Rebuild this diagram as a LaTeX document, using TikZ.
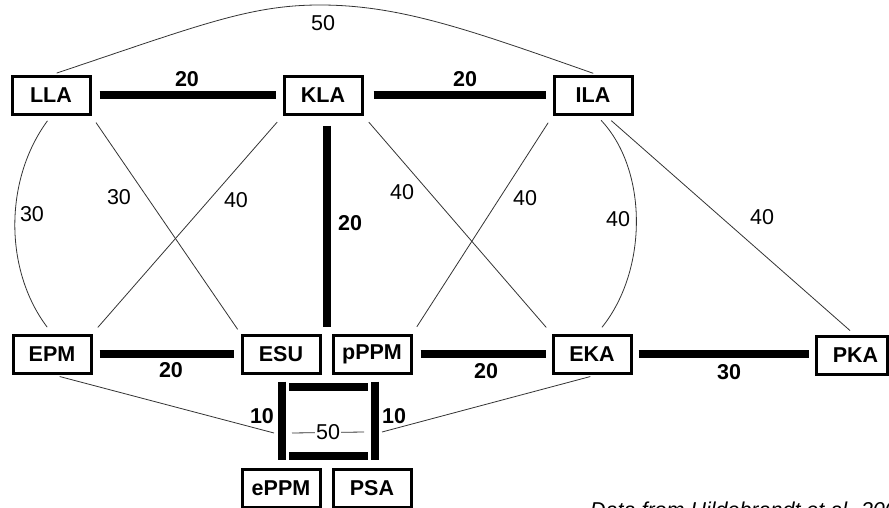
\documentclass[tikz,border=0pt]{standalone}
\usepackage{fontspec}
\setmainfont{Liberation Sans}
\begin{document}
\begin{tikzpicture}[x=1pt,y=-1pt,
  box/.style={draw=black,line width=3pt,fill=white,minimum width=78pt,minimum height=38pt,inner sep=0pt,font=\fontsize{21.5}{24}\selectfont\bfseries},
  thick link/.style={line width=8pt,black},
  thin link/.style={line width=0.8pt,black!80},
  wlab/.style={font=\fontsize{21.5}{24}\selectfont\bfseries,inner sep=0pt,text=black},
  nlab/.style={font=\fontsize{21.5}{24}\selectfont,inner sep=0pt,text=black}]
\useasboundingbox (0,0) rectangle (889,508);
% nodes
\node[box] (LLA) at (51,95.5) {LLA};
\node[box] (KLA) at (323,95.5) {KLA};
\node[box] (ILA) at (593,95.5) {ILA};
\node[box] (EPM) at (52,354) {EPM};
\node[box] (ESU) at (281,354) {ESU};
\node[box] (pPPM) at (372,354) {pPPM};
\node[box] (EKA) at (592,354) {EKA};
\node[box,minimum width=71pt] (PKA) at (851.5,355) {\hspace*{8pt}PKA};
\node[box] (ePPM) at (281,488) {ePPM};
\node[box] (PSA) at (372,488) {PSA};
% helper coordinates
\coordinate (kj) at (327,334);
\coordinate (q1) at (289,387);
\coordinate (q2) at (368,387);
\coordinate (q3) at (289,456);
\coordinate (q4) at (368,456);
\coordinate (m1) at (274,433);
\coordinate (m2) at (292,433);
\coordinate (m3) at (364,432);
\coordinate (m4) at (382,432);
% thin links
\draw[thin link,shorten <=6pt,shorten >=5pt] (LLA.north) .. controls (200,25) and (250,5) .. (320,5) .. controls (400,5) and (470,30) .. ([xshift=5pt]ILA.north);
\draw[thin link,shorten <=6pt,shorten >=8pt] (LLA.south) .. controls (4,180) and (4,270) .. (EPM.north);
\draw[thin link,shorten <=8pt,shorten >=5pt] (LLA.south east) -- (ESU.north west);
\draw[thin link,shorten <=8pt,shorten >=8pt] (KLA.south west) -- (EPM.north east);
\draw[thin link,shorten <=8pt,shorten >=8pt] (KLA.south east) -- (EKA.north west);
\draw[thin link,shorten <=8pt,shorten >=8pt] (ILA.south west) -- (pPPM.north east);
\draw[thin link,shorten <=6pt,shorten >=8pt] ([xshift=4pt]ILA.south) .. controls (648,170) and (648,270) .. ([xshift=5pt]EKA.north);
\draw[thin link,shorten <=7pt,shorten >=6pt] ([xshift=13pt]ILA.south) -- ([xshift=3pt]PKA.north);
\draw[thin link,shorten <=8pt] (EPM.south) -- (m1);
\draw[thin link] (m2) -- node[nlab,fill=white,inner xsep=1pt] (l50b) {50} (m3);
\draw[thin link,shorten >=8pt] (m4) -- ([xshift=6pt]EKA.south);
% thick links
\draw[thick link,shorten <=8pt,shorten >=7pt] (LLA.east) -- (KLA.west);
\draw[thick link,shorten <=10pt,shorten >=7pt] (KLA.east) -- (ILA.west);
\draw[thick link,shorten <=10pt,shorten >=7pt] (KLA.south -| kj) -- (kj);
\draw[thick link,shorten <=7pt,shorten >=7pt] (EPM.east) -- (ESU.west);
\draw[thick link,shorten <=8pt,shorten >=6pt] (pPPM.east) -- (EKA.west);
\draw[thick link,shorten <=6pt,shorten >=6pt] (EKA.east) -- (PKA.west |- EKA.east);
\draw[thick link,shorten <=7pt,shorten >=8pt] ([xshift=1pt]ESU.south) -- ([xshift=1pt]ePPM.north);
\draw[thick link,shorten <=7pt,shorten >=8pt] ([xshift=3pt]pPPM.south) -- ([xshift=3pt]PSA.north);
\draw[thick link] (q1) -- (q2);
\draw[thick link] (q3) -- (q4);
% labels
\node[nlab] (l50a) at (323,23) {50};
\node[nlab] (l30a) at (32,214) {30};
\node[nlab] (l30b) at (119,197) {30};
\node[nlab] (l40a) at (236,200) {40};
\node[nlab] (l40b) at (402,192) {40};
\node[nlab] (l40c) at (525,198) {40};
\node[nlab] (l40d) at (618,219) {40};
\node[nlab] (l40e) at (762,217) {40};
\node[wlab] (l20a) at (187,79) {20};
\node[wlab] (l20b) at (465,79) {20};
\node[wlab] (l20c) at (350,223) {20};
\node[wlab] (l20d) at (171,370) {20};
\node[wlab] (l20e) at (486,371) {20};
\node[wlab] (l30c) at (729,372) {30};
\node[wlab] (l10a) at (262,416) {10};
\node[wlab] (l10b) at (394,416) {10};
\node[nlab,anchor=base west,font=\fontsize{21.5}{24}\selectfont\itshape] (src) at (590,517) {Data from Hildebrandt et al. 2008};
\end{tikzpicture}
\end{document}
